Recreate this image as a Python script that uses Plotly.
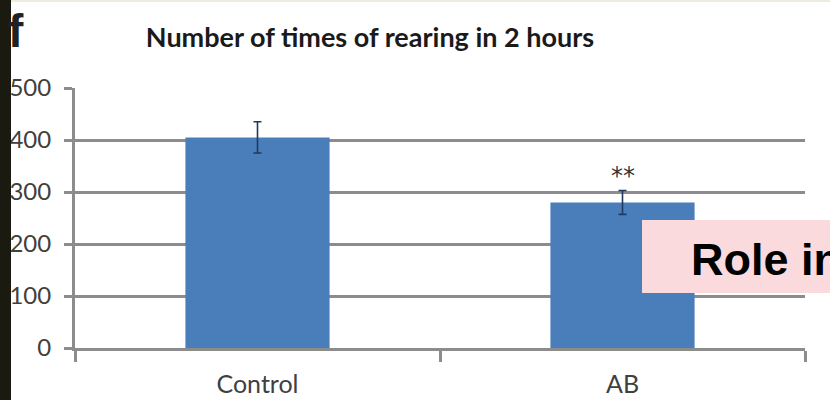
import plotly.graph_objects as go

categories = ["Control", "AB"]
values = [405, 280]
errors = [30, 23]
y_ticks = [0, 100, 200, 300, 400, 500]
title_text = "Number of times of rearing in 2 hours"
signif = "**"
signif_y = 331
panel_label = "f"
box_text = "Role in"

W, H = 830, 400
ML, MR, MT, MB = 75, 25, 88, 52
PW = W - ML - MR
PH = H - MT - MB

def px_x(p):
    return (p - ML) / PW

def px_y(p):
    return 1 - (p - MT) / PH

GRID = "#8c8c8c"
FONT = "Lato"

fig = go.Figure()
fig.add_trace(go.Bar(
    x=categories, y=values, width=0.395,
    marker=dict(color="#4a7ebb", line=dict(width=0)),
    error_y=dict(type="data", array=errors, visible=True,
                 color="#1f3a5f", thickness=1.6, width=4),
))

fig.update_layout(
    width=W, height=H,
    margin=dict(l=ML, r=MR, t=MT, b=MB, autoexpand=False),
    paper_bgcolor="white", plot_bgcolor="white",
    showlegend=False,
    title=dict(text="<b>" + title_text + "</b>", x=370 / W, xref="container",
               xanchor="center", y=1 - 38 / H, yanchor="middle", automargin=False,
               font=dict(family=FONT, size=27, color="#1a1a1a")),
    xaxis=dict(
        automargin=False,
        showline=True, linecolor=GRID, linewidth=3,
        ticks="outside", tickson="boundaries", ticklen=11, tickwidth=3, tickcolor=GRID,
        showgrid=False, tickfont=dict(family=FONT, size=25, color="#404040"),
        ticklabelstandoff=12,
    ),
    yaxis=dict(
        automargin=False,
        range=[0, 500], tickvals=y_ticks, ticktext=[str(v) for v in y_ticks],
        showline=True, linecolor=GRID, linewidth=3,
        ticks="outside", ticklen=8, tickwidth=3, tickcolor=GRID,
        showgrid=True, gridcolor=GRID, gridwidth=3, zeroline=False,
        tickfont=dict(family=FONT, size=24, color="#404040"),
        ticklabelstandoff=8,
    ),
)

# dark strip on the left and thin top border
fig.add_shape(type="rect", xref="paper", yref="paper",
              x0=px_x(-5), x1=px_x(11), y0=px_y(-5), y1=px_y(405),
              fillcolor="#1a1a10", line=dict(width=0), layer="above")
fig.add_shape(type="rect", xref="paper", yref="paper",
              x0=px_x(11), x1=px_x(835), y0=px_y(-2), y1=px_y(2),
              fillcolor="#efebe2", line=dict(width=0), layer="above")

# pink overlay box
fig.add_shape(type="rect", xref="paper", yref="paper",
              x0=px_x(642), x1=px_x(840), y0=px_y(293), y1=px_y(220),
              fillcolor="#fbdadd", line=dict(width=0), layer="above")

fig.add_annotation(text="<b>" + box_text + "</b>", xref="paper", yref="paper",
                   x=px_x(689), y=px_y(259), xanchor="left", yanchor="middle",
                   showarrow=False, font=dict(family="Liberation Sans", size=45, color="black"))

fig.add_annotation(text=signif, x="AB", y=signif_y, xref="x", yref="y",
                   showarrow=False, yanchor="middle",
                   font=dict(family="DejaVu Sans", size=24, color="#333333"))

fig.add_annotation(text="<b>" + panel_label + "</b>", xref="paper", yref="paper",
                   x=px_x(6), y=px_y(31), xanchor="left", yanchor="middle",
                   showarrow=False, font=dict(family="Liberation Sans", size=46, color="#222222"))

fig.write_html("out.html", config={"displayModeBar": False},
               post_script="document.body.style.margin='0';document.body.style.overflow='hidden';")
